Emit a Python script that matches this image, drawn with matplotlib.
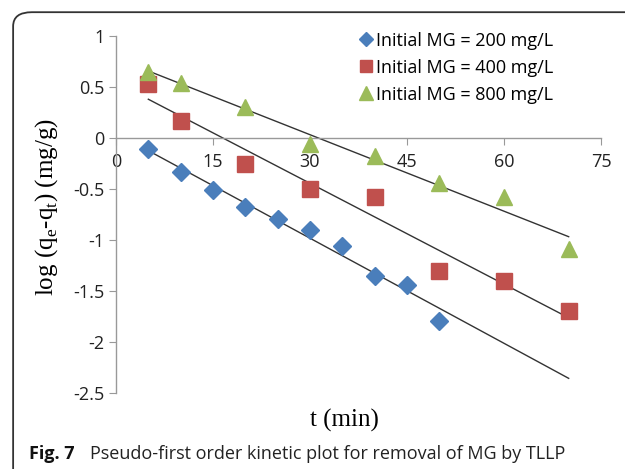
import numpy as np
import matplotlib
matplotlib.use('Agg')
import matplotlib.pyplot as plt
from matplotlib.patches import FancyBboxPatch

# data
t_200 = [5, 10, 15, 20, 25, 30, 35, 40, 45, 50]
y_200 = [-0.11, -0.33, -0.51, -0.68, -0.79, -0.90, -1.06, -1.35, -1.44, -1.79]
t_400 = [5, 10, 20, 30, 40, 50, 60, 70]
y_400 = [0.53, 0.17, -0.25, -0.50, -0.58, -1.30, -1.40, -1.70]
t_800 = [5, 10, 20, 30, 40, 50, 60, 70]
y_800 = [0.65, 0.54, 0.30, -0.06, -0.18, -0.44, -0.58, -1.09]
fit_range = [5, 70]
labels = ['Initial MG = 200 mg/L', 'Initial MG = 400 mg/L', 'Initial MG = 800 mg/L']

tick_font = 'Open Sans'
serif_font = 'Liberation Serif'

fig = plt.figure(figsize=(6.25, 4.69), dpi=100)

# panel frame with rounded corner
frame = FancyBboxPatch((0.021, -0.1), 1.2, 1.074, boxstyle='round,pad=0,rounding_size=0.03',
                       transform=fig.transFigure, fill=False, edgecolor='#333333', lw=1.3)
fig.patches.append(frame)

ax = fig.add_axes([0.1856, 0.162, 0.776, 0.761])

series = [(t_200, y_200, 'D', '#4A7EBB', 9.5),
          (t_400, y_400, 's', '#C0504D', 11.5),
          (t_800, y_800, '^', '#9BBB59', 12)]
for (tx, ty, mk, col, ms), lab in zip(series, labels):
    ax.plot(tx, ty, linestyle='none', marker=mk, color=col, markersize=ms,
            markeredgecolor=col, label=lab, zorder=3)
    k, b = np.polyfit(tx, ty, 1)
    xx = np.array(fit_range)
    ax.plot(xx, k * xx + b, color='#333333', lw=1.0, zorder=2)

ax.set_xlim(0, 75)
ax.set_ylim(-2.5, 1)
ax.set_xticks([0, 15, 30, 45, 60, 75])
ax.set_yticks([-2.5, -2, -1.5, -1, -0.5, 0, 0.5, 1])
ax.set_yticklabels(['-2.5', '-2', '-1.5', '-1', '-0.5', '0', '0.5', '1'])

ax.spines['top'].set_visible(False)
ax.spines['right'].set_visible(False)
ax.spines['bottom'].set_position(('data', 0))
for s in ['left', 'bottom']:
    ax.spines[s].set_color('#999999')
    ax.spines[s].set_linewidth(1.0)
ax.tick_params(axis='both', direction='out', length=5, color='#999999', labelsize=13,
               labelcolor='#222222')
ax.tick_params(axis='x', pad=6)
for lbl in ax.get_xticklabels() + ax.get_yticklabels():
    lbl.set_family(tick_font)

ax.set_xlabel('t (min)', family=serif_font, fontsize=18, labelpad=0)
ax.xaxis.set_label_coords(0.47, -0.045)
ax.set_ylabel(r'log (q$_\mathregular{e}$-q$_\mathregular{t}$) (mg/g)', family=serif_font, fontsize=18)
ax.yaxis.set_label_coords(-0.115, 0.52)

leg = ax.legend(loc='upper right', bbox_to_anchor=(0.935, 1.058), frameon=False,
                handletextpad=0.0, handlelength=1.1, labelspacing=0.5, markerscale=0.8,
                prop={'family': tick_font, 'size': 13})

fig.text(0.046, 0.022, 'Fig. 7', family=tick_font, fontweight='bold', fontsize=13, color='#111111')
fig.text(0.144, 0.022, 'Pseudo-first order kinetic plot for removal of MG by TLLP',
         family=tick_font, fontsize=13, color='#222222')

fig.savefig('out.png', dpi=100)
